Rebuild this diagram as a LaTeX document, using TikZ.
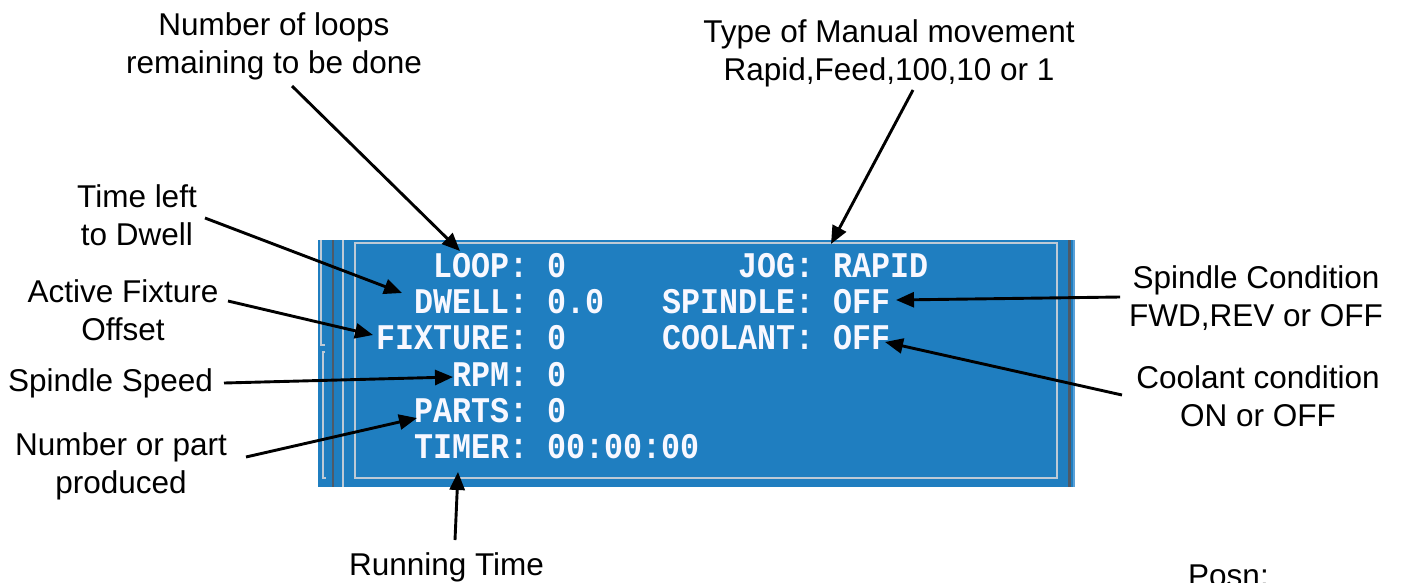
\documentclass[tikz,border=0pt]{standalone}
\usepackage{graphicx}
\usepackage{fontspec}
\setmainfont{Liberation Sans}
\newfontfamily\scrfont{Liberation Mono}
\usetikzlibrary{arrows.meta}
\definecolor{panelblue}{RGB}{31,126,192}
\definecolor{borderlight}{RGB}{190,202,214}
\definecolor{borderdark}{RGB}{78,90,104}
\definecolor{edgeblue}{RGB}{90,160,215}
\definecolor{scrwhite}{RGB}{248,248,255}
\newcommand{\scrtxt}[1]{\scalebox{1}[1.14]{#1}}
\begin{document}
\begin{tikzpicture}[x=1pt,y=-1pt,
  lbl/.style={font=\fontsize{31.5}{38}\selectfont, inner sep=0pt, anchor=base},
  scr/.style={font=\scrfont\bfseries\fontsize{31.67}{36}\selectfont, text=scrwhite, inner sep=0pt, anchor=base west},
  pointer/.style={line width=2.9pt, -{Triangle[length=18pt,width=15pt]}},
  thinlight/.style={draw=borderlight, line width=2pt},
  thindark/.style={draw=borderdark, line width=2.5pt}
]
\clip (0,0) rectangle (1404,582);
\fill[white] (0,0) rectangle (1404,582);

% screen panel
\fill[panelblue] (318,240) rectangle (1075,487);
\draw[thinlight] (355,242.5) rectangle (1057,478);
\draw[thinlight] (342.5,240) -- (342.5,487);
\draw[thindark] (333,240) -- (333,487);
\draw[thinlight] (320.5,240) -- (320.5,345) -- (325,345);
\draw[thinlight] (325,352) -- (322.5,352) -- (322.5,478) -- (326,478);
\draw[thindark] (1069.5,240) -- (1069.5,487);
\draw[draw=edgeblue, line width=2pt] (1074,240) -- (1074,487);

% screen text, left column
\node[scr] (loop)    at (433,277) {\scrtxt{LOOP: 0}};
\node[scr] (dwell)   at (414,313) {\scrtxt{DWELL: 0.0}};
\node[scr] (fixture) at (376,349) {\scrtxt{FIXTURE: 0}};
\node[scr] (rpm)     at (452,386) {\scrtxt{RPM: 0}};
\node[scr] (parts)   at (414,422) {\scrtxt{PARTS: 0}};
\node[scr] (timer)   at (414,458) {\scrtxt{TIMER: 00:00:00}};
% right column
\node[scr] (jog)     at (738,277) {\scrtxt{JOG: RAPID}};
\node[scr] (spindle) at (662,313) {\scrtxt{SPINDLE: OFF}};
\node[scr] (coolant) at (662,349) {\scrtxt{COOLANT: OFF}};

% annotation labels
\node[lbl] (loops1) at (274,35) {Number of loops};
\node[lbl] (loops2) at (274,73) {remaining to be done};
\node[lbl] (type1) at (889,42) {Type of Manual movement};
\node[lbl] (type2) at (889,80) {Rapid,Feed,100,10 or 1};
\node[lbl] (tleft1) at (137,207) {Time left};
\node[lbl] (tleft2) at (137,245) {to Dwell};
\node[lbl] (afix1) at (123,302) {Active Fixture};
\node[lbl] (afix2) at (123,340) {Offset};
\node[lbl] (sspeed) at (110.5,391) {Spindle Speed};
\node[lbl] (npart1) at (121,455) {Number or part};
\node[lbl] (npart2) at (121,493) {produced};
\node[lbl] (runt) at (446.5,575) {Running Time};
\node[lbl] (scond1) at (1256,288) {Spindle Condition};
\node[lbl] (scond2) at (1256,326) {FWD,REV or OFF};
\node[lbl] (ccond1) at (1258,388) {Coolant condition};
\node[lbl] (ccond2) at (1258,426) {ON or OFF};
\node[lbl, anchor=base west] (posn) at (1188,586) {Posn:};

% connector ends
\coordinate (loopsT) at (292,86);   \coordinate (loopsH) at (460,251);
\coordinate (typeT) at (913,90);    \coordinate (typeH) at (831,244);
\coordinate (tleftT) at (205,218);  \coordinate (tleftH) at (402,293);
\coordinate (afixT) at (228,301);   \coordinate (afixH) at (373,335);
\coordinate (sspeedT) at (224,383); \coordinate (sspeedH) at (453,377);
\coordinate (npartT) at (246,457);  \coordinate (npartH) at (417,418);
\coordinate (runtT) at (455,540);   \coordinate (runtH) at (458,472);
\coordinate (scondT) at (1120,297); \coordinate (scondH) at (896,300);
\coordinate (ccondT) at (1122,395); \coordinate (ccondH) at (885,342);

\draw[pointer] (loopsT) -- (loopsH);
\draw[pointer] (typeT) -- (typeH);
\draw[pointer] (tleftT) -- (tleftH);
\draw[pointer] (afixT) -- (afixH);
\draw[pointer] (sspeedT) -- (sspeedH);
\draw[pointer] (npartT) -- (npartH);
\draw[pointer] (runtT) -- (runtH);
\draw[pointer] (scondT) -- (scondH);
\draw[pointer] (ccondT) -- (ccondH);
\end{tikzpicture}
\end{document}
